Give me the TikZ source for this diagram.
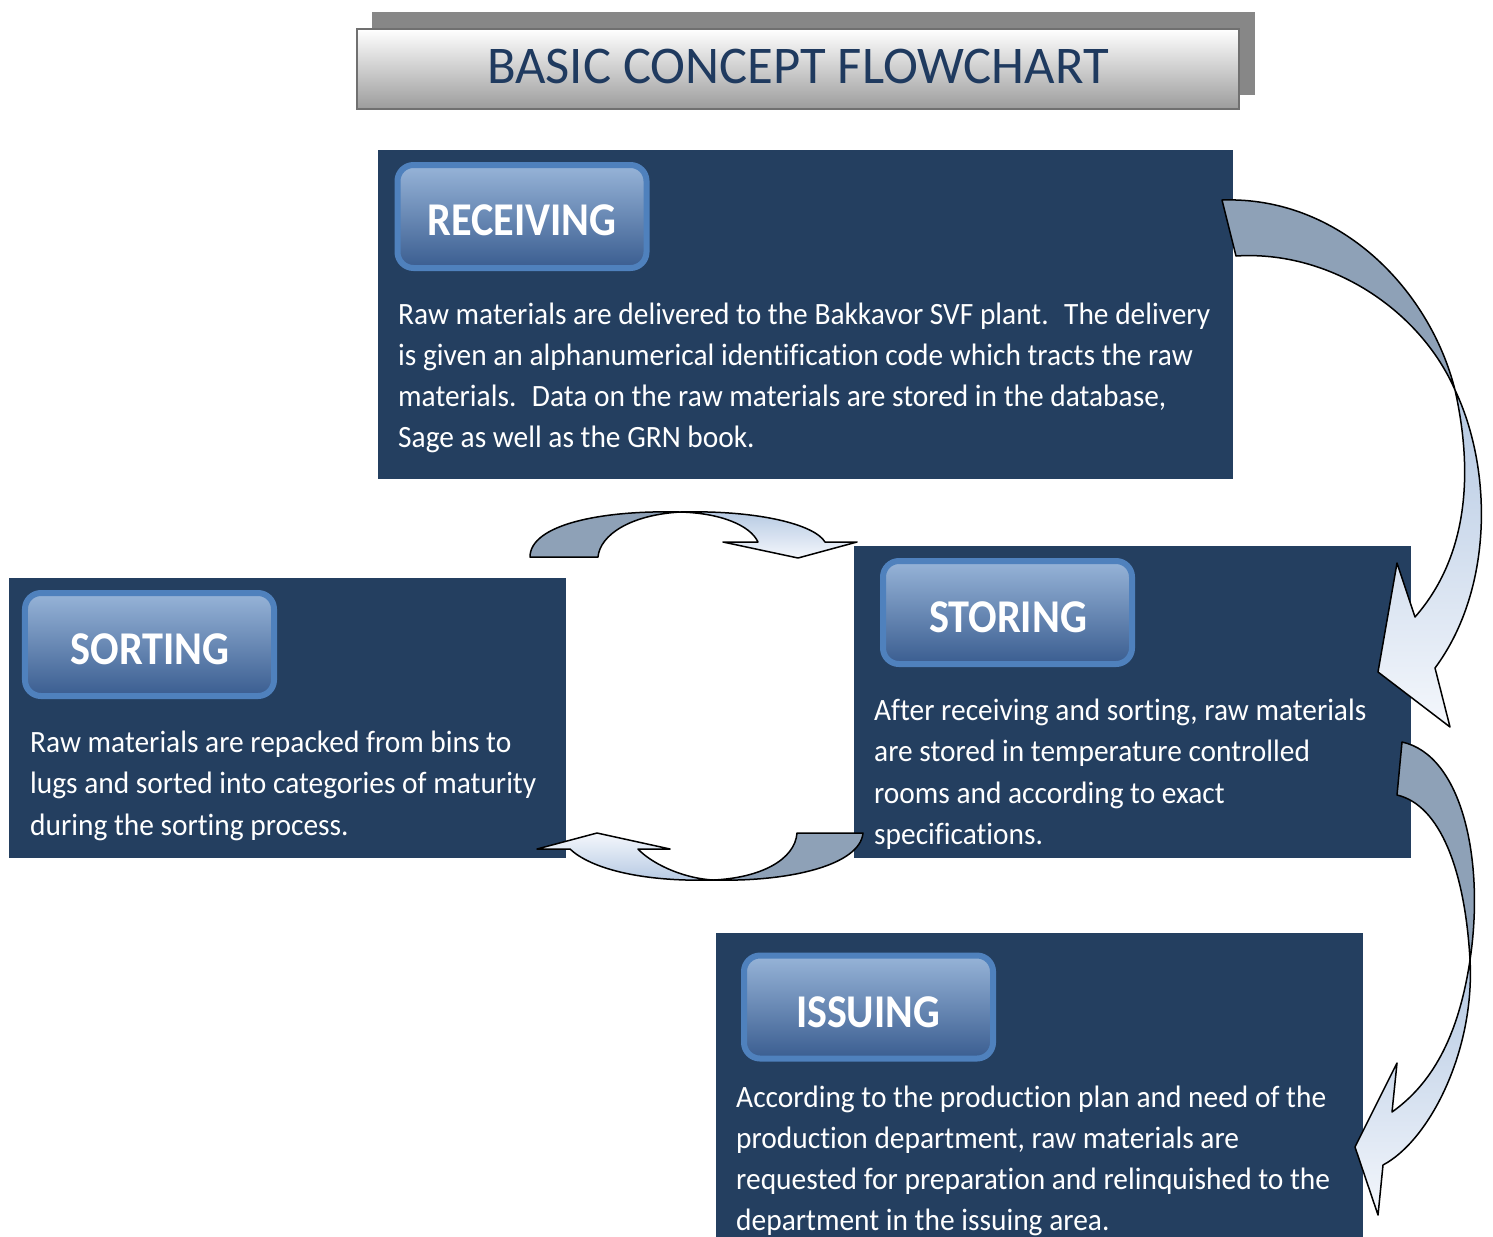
\documentclass[tikz,border=0pt]{standalone}
\usepackage{fontspec}
\setmainfont{Carlito}[Ligatures=NoCommon]
\usepackage{graphicx}
\definecolor{panelc}{HTML}{243F60}
\definecolor{btnborder}{HTML}{4F81BD}
\definecolor{btntop}{HTML}{97B4D8}
\definecolor{btnbot}{HTML}{3A5D90}
\definecolor{titlec}{HTML}{1F3A5F}
\definecolor{arrback}{HTML}{8EA1B7}
\definecolor{arrblue}{HTML}{B4C8E2}
\definecolor{arrwhite}{HTML}{F4F7FC}
\definecolor{shadowc}{HTML}{878787}
\definecolor{tboxborder}{HTML}{707070}
\definecolor{tboxbot}{HTML}{9C9C9C}
\newcommand\mybodyfont{\fontsize{31bp}{41bp}\selectfont}
\newcommand\myheadfont{\fontsize{47bp}{50bp}\selectfont\bfseries}
\newcommand\mytitlefont{\fontsize{53bp}{56bp}\selectfont}
\newlength\myreflen
\newcommand\mysetscale[3]{\settowidth\myreflen{\mybodyfont #3}\pgfmathsetmacro#1{#2*1.00375/\myreflen}}
\newcommand\myline[2]{\scalebox{#1}[1]{#2}}
\begin{document}
\mysetscale{\myhsA}{812}{Raw materials are delivered to the Bakkavor SVF plant.~ The delivery}%
\mysetscale{\myhsB}{492}{After receiving and sorting, raw materials}%
\mysetscale{\myhsC}{506}{lugs and sorted into categories of maturity}%
\mysetscale{\myhsD}{594}{requested for preparation and relinquished to the}%
\begin{tikzpicture}[x=1bp,y=-1bp,
  panel/.style={fill=panelc, draw=none, anchor=north west, inner sep=0},
  btn/.style={draw=btnborder, line width=6bp, rounded corners=16bp, top color=btntop, bottom color=btnbot, minimum width=249bp, minimum height=103bp, inner sep=0},
  headtxt/.style={text=white, inner sep=0, font=\myheadfont},
  bodytxt/.style={text=white, inner sep=0, font=\mybodyfont, anchor=base west},
  arrline/.style={draw=black, line width=1.5bp, line join=round},
  backpart/.style={arrline, fill=arrback}
]
\useasboundingbox (0,0) rectangle (1493,1236);

% title
\node[fill=shadowc, anchor=north west, minimum width=883bp, minimum height=83bp, inner sep=0] (tshadow) at (372,12) {};
\node[draw=tboxborder, line width=2.5bp, top color=white, bottom color=tboxbot, minimum width=882bp, minimum height=80bp, inner sep=0] (tbox) at (798,69) {};
\node[text=titlec, inner sep=0] (ttext) at (798,66) {\resizebox{622bp}{\height}{\mytitlefont BASIC CONCEPT FLOWCHART}};

% panels
\node[panel, minimum width=855bp, minimum height=329bp] (recv) at (378,150) {};
\node[panel, minimum width=557bp, minimum height=312bp] (stor) at (854,546) {};
\node[panel, minimum width=557bp, minimum height=280bp] (sort) at (9,578) {};
\node[panel, minimum width=647bp, minimum height=310bp] (issu) at (716,933) {};

% buttons
\node[btn] (recvb) at (522,216.5) {};
\node[headtxt] (recvt) at (522,220) {\resizebox{189bp}{\height}{RECEIVING}};
\node[btn] (storb) at (1007.5,612.5) {};
\node[headtxt] (stort) at (1008,617) {\resizebox{158bp}{\height}{STORING}};
\node[btn] (sortb) at (149.5,644.5) {};
\node[headtxt] (sortt) at (150,649) {\resizebox{159bp}{\height}{SORTING}};
\node[btn] (issub) at (868.5,1007) {};
\node[headtxt] (issut) at (868,1012) {\resizebox{144bp}{\height}{ISSUING}};

% body text
\node[bodytxt] (r1) at (398,324) {\myline{\myhsA}{Raw materials are delivered to the Bakkavor SVF plant.~ The delivery}};
\node[bodytxt] (r2) at (398,365) {\myline{\myhsA}{is given an alphanumerical identification code which tracts the raw}};
\node[bodytxt] (r3) at (398,406) {\myline{\myhsA}{materials.~ Data on the raw materials are stored in the database,}};
\node[bodytxt] (r4) at (398,447) {\myline{\myhsA}{Sage as well as the GRN book.}};

\node[bodytxt] (s1) at (874,720) {\myline{\myhsB}{After receiving and sorting, raw materials}};
\node[bodytxt] (s2) at (874,761.5) {\myline{\myhsB}{are stored in temperature controlled}};
\node[bodytxt] (s3) at (874,803) {\myline{\myhsB}{rooms and according to exact}};
\node[bodytxt] (s4) at (874,844.5) {\myline{\myhsB}{specifications.}};

\node[bodytxt] (o1) at (30,752) {\myline{\myhsC}{Raw materials are repacked from bins to}};
\node[bodytxt] (o2) at (30,793.5) {\myline{\myhsC}{lugs and sorted into categories of maturity}};
\node[bodytxt] (o3) at (30,835) {\myline{\myhsC}{during the sorting process.}};

\node[bodytxt] (i1) at (736,1107) {\myline{\myhsD}{According to the production plan and need of the}};
\node[bodytxt] (i2) at (736,1148) {\myline{\myhsD}{production department, raw materials are}};
\node[bodytxt] (i3) at (736,1189) {\myline{\myhsD}{requested for preparation and relinquished to the}};
\node[bodytxt] (i4) at (736,1230) {\myline{\myhsD}{department in the issuing area.}};

% arrow 1: receiving -> storing
\path[backpart] (1222,200) .. controls (1340,196) and (1430,290) .. (1455,390)
  .. controls (1420,310) and (1330,250) .. (1236,256) -- cycle;
\shade[arrline, top color=arrblue, bottom color=arrwhite]
  (1455,390) .. controls (1475,480) and (1465,560) .. (1415,617)
  -- (1397,563) -- (1378,672) -- (1450,727) -- (1435,668)
  .. controls (1493,590) and (1493,470) .. (1455,390) -- cycle;

% arrow 2: sorting -> storing (top middle)
\path[backpart] (530,557) .. controls (530,525) and (600,510) .. (680,512)
  .. controls (630,515) and (600,535) .. (598,557) -- cycle;
\shade[arrline, top color=arrblue, bottom color=arrwhite]
  (680,512) .. controls (720,513) and (750,525) .. (758,542)
  -- (723,542) -- (798,558) -- (857,542) -- (825,542)
  .. controls (815,525) and (760,510) .. (680,512) -- cycle;

% arrow 3: storing -> sorting (bottom middle)
\path[backpart] (797,833) .. controls (795,860) and (760,878) .. (713,880)
  .. controls (790,882) and (860,865) .. (863,833) -- cycle;
\shade[arrline, top color=arrwhite, bottom color=arrblue]
  (713,880) .. controls (680,878) and (650,862) .. (638,849)
  -- (670,849) -- (597,833) -- (537,849) -- (570,849)
  .. controls (590,868) and (640,882) .. (713,880) -- cycle;

% arrow 4: storing -> issuing
\path[backpart] (1402,742) .. controls (1462,755) and (1485,860) .. (1470,960)
  .. controls (1465,870) and (1440,805) .. (1397,795) -- cycle;
\shade[arrline, top color=arrblue, bottom color=arrwhite]
  (1470,960) .. controls (1458,1040) and (1430,1085) .. (1392,1112)
  -- (1397,1063) -- (1355,1147) -- (1378,1215) -- (1383,1165)
  .. controls (1430,1140) and (1475,1050) .. (1470,960) -- cycle;
\end{tikzpicture}
\end{document}
